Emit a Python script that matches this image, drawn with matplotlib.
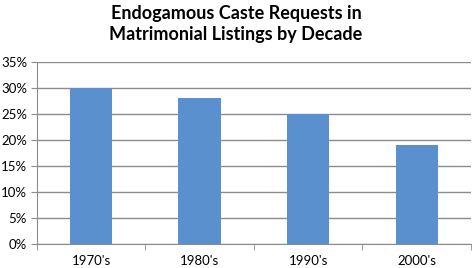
import numpy as np
import matplotlib.pyplot as plt
from matplotlib.ticker import FixedLocator, NullFormatter

decades = ["1970's", "1980's", "1990's", "2000's"]
percent = [30, 28, 25, 19]
y_ticks = [0, 5, 10, 15, 20, 25, 30, 35]

plt.rcParams['font.family'] = ['Lato', 'DejaVu Sans']

fig = plt.figure(figsize=(4.72, 2.68), dpi=100)
ax = fig.add_axes([0.078, 0.09, 0.92, 0.679])

x = np.arange(len(decades))
ax.bar(x, percent, width=0.39, color='#5b90cf', zorder=3)

ax.set_xlim(-0.5, len(decades) - 0.5)
ax.set_ylim(0, 35)
ax.set_yticks(y_ticks)
ax.set_yticklabels([f'{v}%' for v in y_ticks], fontsize=9.5)
ax.yaxis.grid(True, color='#8c8c8c', linewidth=1, zorder=0)

ax.set_xticks(x)
ax.set_xticklabels(decades, fontsize=9.5)
ax.tick_params(axis='x', length=0, pad=8)
ax.xaxis.set_minor_locator(FixedLocator(np.arange(-0.5, len(decades), 1.0)))
ax.xaxis.set_minor_formatter(NullFormatter())
ax.tick_params(axis='x', which='minor', length=4, color='#8c8c8c', direction='out')
ax.tick_params(axis='y', length=4, color='#8c8c8c', pad=3)

for side in ['top', 'right']:
    ax.spines[side].set_visible(False)
for side in ['left', 'bottom']:
    ax.spines[side].set_color('#8c8c8c')

fig.text(0.5, 0.98, 'Endogamous Caste Requests in\nMatrimonial Listings by Decade',
         ha='center', va='top', fontsize=13, fontweight='bold', linespacing=1.25)

fig.savefig('out.png', dpi=100)
